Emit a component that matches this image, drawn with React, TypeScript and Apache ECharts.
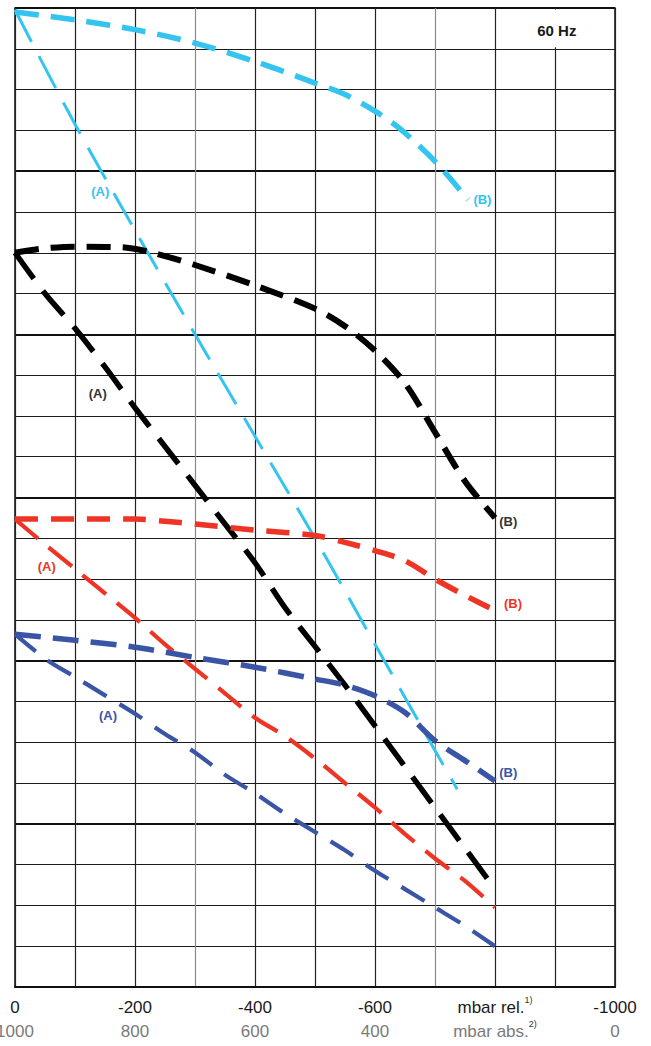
import React, { useEffect, useRef } from "react";
import * as echarts from "echarts";

// x: vacuum in mbar rel. (0 … -1000); y: chart units (0 = bottom grid line, 24 = top)
const lightBlueBX = [0, -100, -200, -300, -400, -500, -550, -600, -640, -700, -755];
const lightBlueBY = [23.9, 23.71, 23.47, 23.14, 22.69, 22.16, 21.88, 21.47, 21.06, 20.24, 19.3];
const lightBlueAX = [0, -100, -200, -300, -400, -500, -600, -700, -737];
const lightBlueAY = [23.95, 21.15, 18.55, 16.0, 13.5, 11.0, 8.4, 5.8, 4.85];

const blackBX = [0, -44, -100, -183, -224, -300, -400, -500, -550, -600, -650, -700, -750, -800];
const blackBY = [18.0, 18.1, 18.15, 18.13, 18.02, 17.7, 17.2, 16.63, 16.2, 15.6, 14.8, 13.6, 12.4, 11.5];
const blackAX = [0, -50, -100, -150, -200, -250, -300, -350, -400, -450, -500, -550, -600, -650, -700, -750, -800];
const blackAY = [18.0, 17.0, 16.15, 15.2, 14.2, 13.25, 12.3, 11.35, 10.4, 9.3, 8.35, 7.4, 6.4, 5.4, 4.4, 3.4, 2.4];

const redBX = [0, -100, -200, -250, -300, -400, -500, -550, -600, -650, -700, -750, -800];
const redBY = [11.47, 11.47, 11.47, 11.42, 11.35, 11.2, 11.07, 10.9, 10.7, 10.45, 10.0, 9.6, 9.23];
const redAX = [0, -50, -100, -150, -200, -250, -300, -350, -400, -450, -500, -550, -600, -650, -700, -750, -800];
const redAY = [11.47, 10.85, 10.25, 9.65, 9.05, 8.4, 7.8, 7.2, 6.6, 6.15, 5.6, 5.0, 4.4, 3.75, 3.15, 2.6, 1.95];

const blueBX = [0, -100, -200, -300, -400, -500, -550, -600, -650, -700, -750, -800];
const blueBY = [8.65, 8.5, 8.33, 8.08, 7.84, 7.55, 7.4, 7.14, 6.73, 6.04, 5.55, 5.05];
const blueAX = [0, -50, -100, -150, -200, -250, -300, -350, -400, -450, -500, -550, -600, -650, -700, -750, -800];
const blueAY = [8.65, 8.05, 7.6, 7.15, 6.7, 6.2, 5.75, 5.2, 4.75, 4.25, 3.8, 3.35, 2.85, 2.4, 1.95, 1.5, 1.0];

// curve labels: [x, y, text]
const lightBlueLabels: [number, number, string][] = [[-142, 19.49, "(A)"], [-779, 19.3, "(B)"]];
const blackLabels: [number, number, string][] = [[-138, 14.56, "(A)"], [-822, 11.4, "(B)"]];
const redLabels: [number, number, string][] = [[-53, 10.32, "(A)"], [-830, 9.4, "(B)"]];
const blueLabels: [number, number, string][] = [[-155, 6.65, "(A)"], [-822, 5.25, "(B)"]];

const relTickLabels = ["0", "-200", "-400", "-600", "mbar rel.", "-1000"];
const absTickLabels = ["1000", "800", "600", "400", "mbar abs.", "0"];
const labelTicks = [0, -200, -400, -600, -800, -1000];

const LIGHT_BLUE = "#33c4f0";
const BLACK = "#000000";
const RED = "#ee3425";
const BLUE = "#3a55a5";
const FONT = "Liberation Sans, Arial, sans-serif";

const zip = (xs: number[], ys: number[]) => xs.map((x, i) => [x, ys[i]]);

function curve(name: string, xs: number[], ys: number[], color: string, width: number, dash: number[], labels?: [number, number, string][], labelColor?: string) {
  return {
    name,
    type: "line",
    data: zip(xs, ys),
    symbol: "none",
    smooth: 0.3,
    lineStyle: { color, width, type: dash, cap: "butt" },
    z: 5,
    markPoint: labels
      ? {
          symbol: "circle",
          symbolSize: 1,
          itemStyle: { color: "rgba(0,0,0,0)" },
          data: labels.map(([x, y, t]) => ({
            coord: [x, y],
            label: {
              show: true,
              position: "inside",
              formatter: t,
              color: labelColor || color,
              fontSize: 13,
              fontWeight: "bold",
              fontFamily: FONT,
            },
          })),
        }
      : undefined,
  };
}

export default function App() {
  const ref = useRef<HTMLDivElement>(null);
  useEffect(() => {
    if (!ref.current) return;
    const chart = echarts.init(ref.current, null, { renderer: "svg" });
    const vColors = ["#222", "#222", "#222", "#8a8a8a", "#222", "#222", "#222", "#8a8a8a", "#222", "#222", "#222"];
    chart.setOption({
      animation: false,
      backgroundColor: "#ffffff",
      grid: {
        left: 15,
        right: 36,
        top: 8,
        bottom: 59,
        containLabel: false,
        outerBoundsMode: "none",
        show: true,
        borderColor: "#111",
        borderWidth: 1.5,
      },
      xAxis: {
        type: "value",
        min: -1000,
        max: 0,
        interval: 100,
        inverse: true,
        axisLine: { show: true, lineStyle: { color: "#111", width: 2.2 } },
        axisTick: { show: false },
        splitLine: { show: true, lineStyle: { color: vColors, width: 1.2 } },
        axisLabel: {
          show: true,
          interval: 0,
          showMinLabel: true,
          showMaxLabel: true,
          margin: 8,
          formatter: (v: number) => {
            const i = labelTicks.indexOf(v === 0 ? 0 : v);
            if (i < 0) return "";
            if (v === -800) return `{t|${relTickLabels[i]}}{s|1)}\n{g|${absTickLabels[i]}}{s|2)}`;
            return `{t|${relTickLabels[i]}}\n{g|${absTickLabels[i]}}`;
          },
          rich: {
            t: { fontSize: 17, color: "#1a1a1a", lineHeight: 24, fontFamily: FONT },
            g: { fontSize: 17, color: "#7a7a7a", lineHeight: 24, fontFamily: FONT },
            s: { fontSize: 9, color: "#333", lineHeight: 24, verticalAlign: "top", padding: [0, 0, 8, 0], fontFamily: FONT },
          },
        },
      },
      yAxis: [
        {
          type: "value",
          min: 0,
          max: 24,
          interval: 1,
          axisLine: { show: false },
          axisTick: { show: false },
          axisLabel: { show: false },
          splitLine: { show: true, lineStyle: { color: "#1a1a1a", width: 1.2 } },
        },
        {
          type: "value",
          min: 0,
          max: 24,
          interval: 4,
          position: "left",
          axisLine: { show: false },
          axisTick: { show: false },
          axisLabel: { show: false },
          splitLine: { show: true, lineStyle: { color: "#111", width: 2.2 } },
        },
      ],
      series: [
        curve("Light blue B", lightBlueBX, lightBlueBY, LIGHT_BLUE, 5.5, [24, 12], lightBlueLabels.slice(1)),
        curve("Light blue A", lightBlueAX, lightBlueAY, LIGHT_BLUE, 3, [36, 16], lightBlueLabels.slice(0, 1)),
        curve("Black B", blackBX, blackBY, BLACK, 6, [24, 12], blackLabels.slice(1), "#333"),
        curve("Black A", blackAX, blackAY, BLACK, 5.5, [32, 15], blackLabels.slice(0, 1), "#333"),
        curve("Red B", redBX, redBY, RED, 5.5, [23, 13], redLabels.slice(1)),
        curve("Red A", redAX, redAY, RED, 4.2, [30, 14], redLabels.slice(0, 1)),
        curve("Blue B", blueBX, blueBY, BLUE, 5.5, [26, 12], blueLabels.slice(1)),
        curve("Blue A", blueAX, blueAY, BLUE, 4.2, [27, 15], blueLabels.slice(0, 1)),
      ],
    });
    const top = chart.convertToPixel({ seriesIndex: 0 }, [-900, 24]) as number[];
    const bot = chart.convertToPixel({ seriesIndex: 0 }, [-900, 23]) as number[];
    const txt = chart.convertToPixel({ seriesIndex: 0 }, [-903, 23.46]) as number[];
    chart.setOption({
      graphic: [
        {
          type: "rect",
          z: 3,
          shape: { x: top[0] - 2, y: top[1] + 1.5, width: 4, height: bot[1] - top[1] - 3 },
          style: { fill: "#ffffff" },
        },
        {
          type: "text",
          z: 4,
          x: txt[0],
          y: txt[1],
          style: {
            text: "60 Hz",
            fill: "#1a1a1a",
            fontSize: 15,
            fontWeight: "bold",
            fontFamily: FONT,
            align: "center",
            verticalAlign: "middle",
          },
        },
      ],
    });
    return () => chart.dispose();
  }, []);
  return <div ref={ref} style={{ position: "absolute", left: 0, top: 0, width: 651, height: 1046 }} />;
}
